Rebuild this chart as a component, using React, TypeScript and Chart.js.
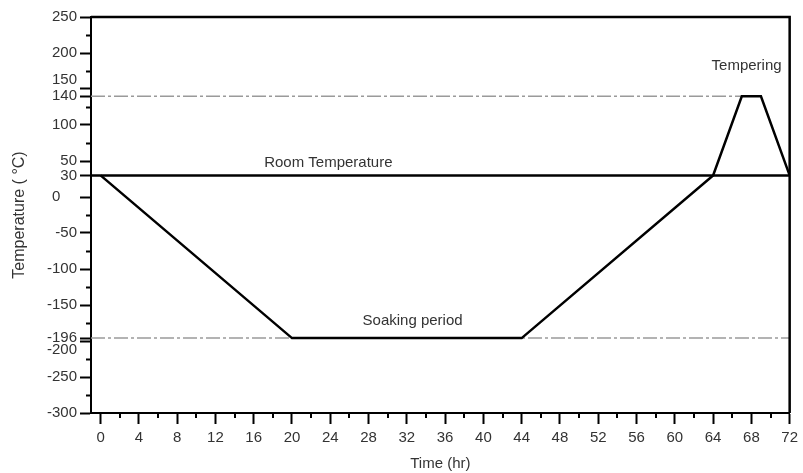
import React, { useEffect, useRef } from 'react';
import { Chart, registerables } from 'chart.js';

Chart.register(...registerables);

// Thermal profile (time in hr, temperature in °C)
const profileTime = [0, 20, 44, 64, 67, 69, 72];
const profileTemp = [30, -196, -196, 30, 140, 140, 30];

// Reference lines
const roomTime = [-1, 72];
const roomTemp = [30, 30];
const temperingRefTime = [-1, 67];
const temperingRefTemp = [140, 140];
const soakRefTime = [-1, 72];
const soakRefTemp = [-196, -196];

// Axis ticks
const xMajorTicks = [0, 4, 8, 12, 16, 20, 24, 28, 32, 36, 40, 44, 48, 52, 56, 60, 64, 68, 72];
const xMinorTicks = [2, 6, 10, 14, 18, 22, 26, 30, 34, 38, 42, 46, 50, 54, 58, 62, 66, 70];
const yMajorTicks = [-300, -250, -200, -196, -150, -100, -50, 0, 30, 50, 100, 140, 150, 200, 250];
const yMinorTicks = [-275, -225, -175, -125, -75, -25, 75, 125, 175, 225];

// Text labels
const labelTexts = ['Room Temperature', 'Soaking period', 'Tempering'];
const labelTimes = [23.8, 32.6, 67.5];
const labelTemps = [47, -172, 182];

const FONT = '"Liberation Sans", Arial, sans-serif';
const TEXT_COLOR = '#333';

const toPoints = (xs: number[], ys: number[]) => xs.map((x, i) => ({ x, y: ys[i] }));

const yLabel = (v: number): string | string[] => {
  if (v === 0) return '0    ';
  if (v === 150) return ['150', ''];
  if (v === -200) return ['', '-200'];
  return String(v);
};

const decorPlugin = {
  id: 'decor',
  afterDraw(chart: any) {
    const { ctx, chartArea } = chart;
    const xs = chart.scales.x;
    const ys = chart.scales.y;
    ctx.save();
    ctx.strokeStyle = '#000';
    ctx.lineWidth = 2;
    // minor ticks
    ctx.beginPath();
    yMinorTicks.forEach((v) => {
      const py = Math.round(ys.getPixelForValue(v)) + 0.5;
      ctx.moveTo(chartArea.left - 5, py);
      ctx.lineTo(chartArea.left, py);
    });
    xMinorTicks.forEach((v) => {
      const px = Math.round(xs.getPixelForValue(v));
      ctx.moveTo(px, chartArea.bottom);
      ctx.lineTo(px, chartArea.bottom + 5);
    });
    ctx.stroke();
    // frame top and right
    ctx.lineWidth = 2.5;
    ctx.beginPath();
    ctx.moveTo(chartArea.left, chartArea.top);
    ctx.lineTo(chartArea.right, chartArea.top);
    ctx.lineTo(chartArea.right, chartArea.bottom);
    ctx.stroke();
    // labels
    ctx.fillStyle = TEXT_COLOR;
    ctx.font = `15px ${FONT}`;
    ctx.textAlign = 'center';
    ctx.textBaseline = 'middle';
    labelTexts.forEach((t, i) => {
      ctx.fillText(t, xs.getPixelForValue(labelTimes[i]), ys.getPixelForValue(labelTemps[i]));
    });
    ctx.restore();
  },
};

export default function App() {
  const ref = useRef<HTMLCanvasElement>(null);

  useEffect(() => {
    document.body.style.margin = '0';
    const canvas = ref.current;
    if (!canvas) return;
    const chart = new Chart(canvas, {
      type: 'line',
      data: {
        datasets: [
          {
            label: 'Profile',
            data: toPoints(profileTime, profileTemp),
            borderColor: '#000',
            borderWidth: 2.5,
            pointRadius: 0,
            tension: 0,
            fill: false,
          },
          {
            label: 'Room Temperature',
            data: toPoints(roomTime, roomTemp),
            borderColor: '#000',
            borderWidth: 2.5,
            pointRadius: 0,
            tension: 0,
            fill: false,
          },
          {
            label: 'Tempering',
            data: toPoints(temperingRefTime, temperingRefTemp),
            borderColor: '#9a9a9a',
            borderWidth: 1.5,
            borderDash: [14, 3, 3, 3],
            pointRadius: 0,
            tension: 0,
            fill: false,
          },
          {
            label: 'Soaking',
            data: toPoints(soakRefTime, soakRefTemp),
            borderColor: '#9a9a9a',
            borderWidth: 1.5,
            borderDash: [14, 3, 3, 3],
            pointRadius: 0,
            tension: 0,
            fill: false,
          },
        ],
      },
      options: {
        responsive: false,
        animation: false,
        layout: { padding: { top: 17, right: 11, left: 0, bottom: 0 } },
        plugins: {
          legend: { display: false },
          tooltip: { enabled: false },
        },
        scales: {
          x: {
            type: 'linear',
            min: -1,
            max: 72,
            afterBuildTicks: (scale: any) => {
              scale.ticks = xMajorTicks.map((v) => ({ value: v }));
            },
            afterFit: (scale: any) => {
              scale.height = 60;
            },
            ticks: {
              autoSkip: false,
              maxRotation: 0,
              padding: 5,
              color: TEXT_COLOR,
              font: { family: FONT, size: 15 },
              callback: (v: any) => String(v),
            },
            grid: {
              drawOnChartArea: false,
              drawTicks: true,
              tickLength: 11,
              tickWidth: 2,
              tickColor: '#000',
            },
            border: { display: true, color: '#000', width: 2 },
            title: {
              display: true,
              text: 'Time (hr)',
              color: TEXT_COLOR,
              font: { family: FONT, size: 15 },
              padding: { top: 0, bottom: 0 },
            },
          },
          y: {
            type: 'linear',
            min: -300,
            max: 250,
            afterBuildTicks: (scale: any) => {
              scale.ticks = yMajorTicks.map((v) => ({ value: v }));
            },
            afterFit: (scale: any) => {
              scale.width = 91;
            },
            ticks: {
              autoSkip: false,
              padding: 3,
              color: TEXT_COLOR,
              font: { family: FONT, size: 15 },
              callback: (v: any) => yLabel(v),
            },
            grid: {
              drawOnChartArea: false,
              drawTicks: true,
              tickLength: 11,
              tickWidth: 2,
              tickColor: '#000',
            },
            border: { display: true, color: '#000', width: 2 },
            title: {
              display: true,
              text: 'Temperature ( °C)',
              color: TEXT_COLOR,
              font: { family: FONT, size: 16 },
              padding: { top: 10, bottom: 0 },
            },
          },
        },
      },
      plugins: [decorPlugin],
    } as any);
    return () => chart.destroy();
  }, []);

  return (
    <div style={{ width: 803, height: 473 }}>
      <canvas ref={ref} width={803} height={473} style={{ display: 'block' }} />
    </div>
  );
}
